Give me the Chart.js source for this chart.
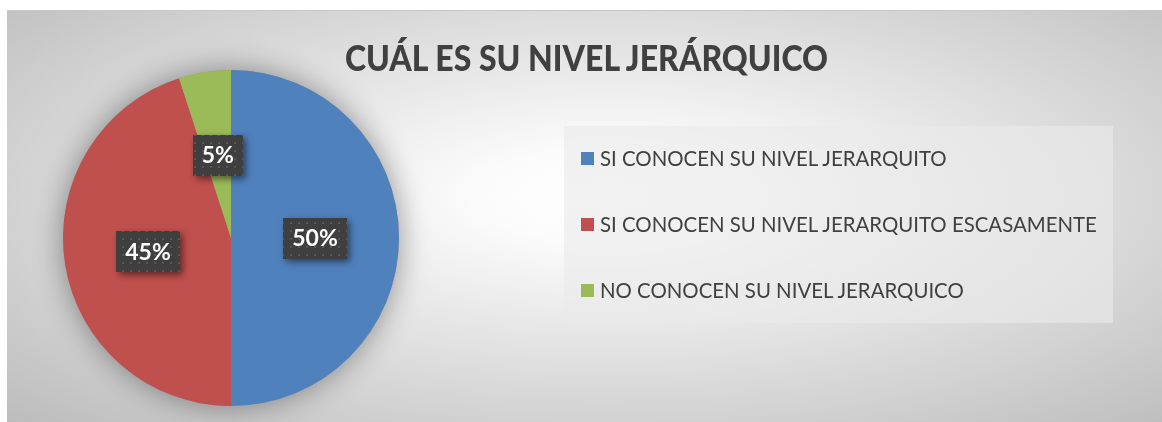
<!DOCTYPE html>
<html lang="es">
<head>
    <meta charset="UTF-8"/>
    <title>Nivel jerárquico</title>
    <script src="https://cdn.jsdelivr.net/npm/chart.js"></script>
    <style>
        html, body {
            margin: 0;
            padding: 0;
            background: #fff;
            width: 1162px;
            height: 422px;
            overflow: hidden;
            font-family: Lato, 'Open Sans', sans-serif;
        }

        .chart-frame {
            position: absolute;
            left: 7px;
            top: 10px;
            width: 1155px;
            height: 411px;
            border-top: 1px solid #c8c8c8;
            background: radial-gradient(ellipse farthest-corner at 52% 45%, #ffffff 0%, #fbfbfb 15%, #bcbcbc 100%);
        }

        .chart-title {
            position: absolute;
            left: 0;
            top: 24px;
            width: 100%;
            text-align: center;
            font-weight: 900;
            font-size: 36px;
            color: #404040;
            transform: translateX(2px) scaleX(0.89);
            transform-origin: 50% 50%;
            white-space: nowrap;
        }

        .legend-box {
            position: absolute;
            left: 557px;
            top: 115px;
            width: 549px;
            height: 197px;
            background: rgba(234, 234, 234, 0.62);
            box-sizing: border-box;
            padding-top: 20px;
            display: flex;
            flex-direction: column;
            gap: 42px;
        }

        .legend-item {
            display: flex;
            align-items: center;
            height: 24px;
            font-size: 20.4px;
            color: #404040;
            white-space: nowrap;
        }

        .legend-item .swatch {
            width: 13px;
            height: 13px;
            margin-left: 17px;
            margin-right: 6px;
        }

        .canvas-wrap {
            position: absolute;
            left: 0;
            top: 0;
            width: 1155px;
            height: 411px;
        }
    </style>
</head>
<body>
<div class="chart-frame">
    <div class="canvas-wrap"><canvas id="pieChart"></canvas></div>
    <div class="chart-title" id="chartTitle"></div>
    <div class="legend-box" id="legendBox"></div>
</div>

<script>
    const chartTitle = 'CUÁL ES SU NIVEL JERÁRQUICO';
    const categories = [
        'SI CONOCEN SU NIVEL JERARQUITO',
        'SI CONOCEN SU NIVEL JERARQUITO ESCASAMENTE',
        'NO CONOCEN SU NIVEL JERARQUICO'
    ];
    const percentages = [50, 45, 5];
    const sliceColors = ['#4f81bd', '#c0504d', '#9bbb59'];

    document.getElementById('chartTitle').textContent = chartTitle;

    // legend built by hand so it can sit in its own box on the right
    const legendBox = document.getElementById('legendBox');
    categories.forEach((name, i) => {
        const item = document.createElement('div');
        item.className = 'legend-item';
        const sw = document.createElement('span');
        sw.className = 'swatch';
        sw.style.background = sliceColors[i];
        const txt = document.createElement('span');
        txt.textContent = name;
        item.appendChild(sw);
        item.appendChild(txt);
        legendBox.appendChild(item);
    });

    // dotted fill used behind the data labels
    function makeDotPattern(ctx) {
        const p = document.createElement('canvas');
        p.width = 8;
        p.height = 8;
        const pc = p.getContext('2d');
        pc.fillStyle = '#3f3f3f';
        pc.fillRect(0, 0, 8, 8);
        pc.fillStyle = '#575757';
        pc.fillRect(3, 3, 2, 2);
        return ctx.createPattern(p, 'repeat');
    }

    const pieGlow = {
        id: 'pieGlow',
        beforeDatasetsDraw(chart) {
            const arc = chart.getDatasetMeta(0).data[0];
            if (!arc) return;
            const { x, y, outerRadius } = arc.getProps(['x', 'y', 'outerRadius'], true);
            const ctx = chart.ctx;
            ctx.save();
            ctx.shadowColor = 'rgba(0, 0, 0, 0.4)';
            ctx.shadowBlur = 30;
            ctx.fillStyle = '#999';
            ctx.beginPath();
            ctx.arc(x, y, outerRadius, 0, Math.PI * 2);
            ctx.fill();
            ctx.restore();
        }
    };

    const boxLabels = {
        id: 'boxLabels',
        afterDatasetsDraw(chart) {
            const ctx = chart.ctx;
            const pattern = makeDotPattern(ctx);
            const meta = chart.getDatasetMeta(0);
            ctx.save();
            ctx.font = 'bold 23px Lato, sans-serif';
            ctx.textAlign = 'center';
            ctx.textBaseline = 'middle';
            meta.data.forEach((arc, i) => {
                const p = arc.getProps(['x', 'y', 'startAngle', 'endAngle', 'outerRadius'], true);
                const mid = (p.startAngle + p.endAngle) / 2;
                const cx = p.x + Math.cos(mid) * p.outerRadius * 0.5;
                const cy = p.y + Math.sin(mid) * p.outerRadius * 0.5;
                const text = percentages[i] + '%';
                const w = ctx.measureText(text).width + 18;
                const h = 41;
                ctx.save();
                ctx.shadowColor = 'rgba(0, 0, 0, 0.5)';
                ctx.shadowBlur = 7;
                ctx.shadowOffsetX = 3;
                ctx.shadowOffsetY = 3;
                ctx.fillStyle = pattern;
                ctx.fillRect(Math.round(cx - w / 2), Math.round(cy - h / 2), Math.round(w), h);
                ctx.restore();
                ctx.fillStyle = '#ffffff';
                ctx.fillText(text, cx, cy + 1);
            });
            ctx.restore();
        }
    };

    const pieChart = new Chart(document.getElementById('pieChart').getContext('2d'), {
        type: 'pie',
        data: {
            labels: categories,
            datasets: [{
                data: percentages,
                backgroundColor: sliceColors,
                borderWidth: 0
            }]
        },
        options: {
            responsive: true,
            maintainAspectRatio: false,
            animation: false,
            layout: {
                padding: { left: 56, top: 59, right: 763, bottom: 16 }
            },
            plugins: {
                legend: { display: false },
                title: { display: false },
                tooltip: { enabled: false }
            }
        },
        plugins: [pieGlow, boxLabels]
    });
</script>
</body>
</html>
